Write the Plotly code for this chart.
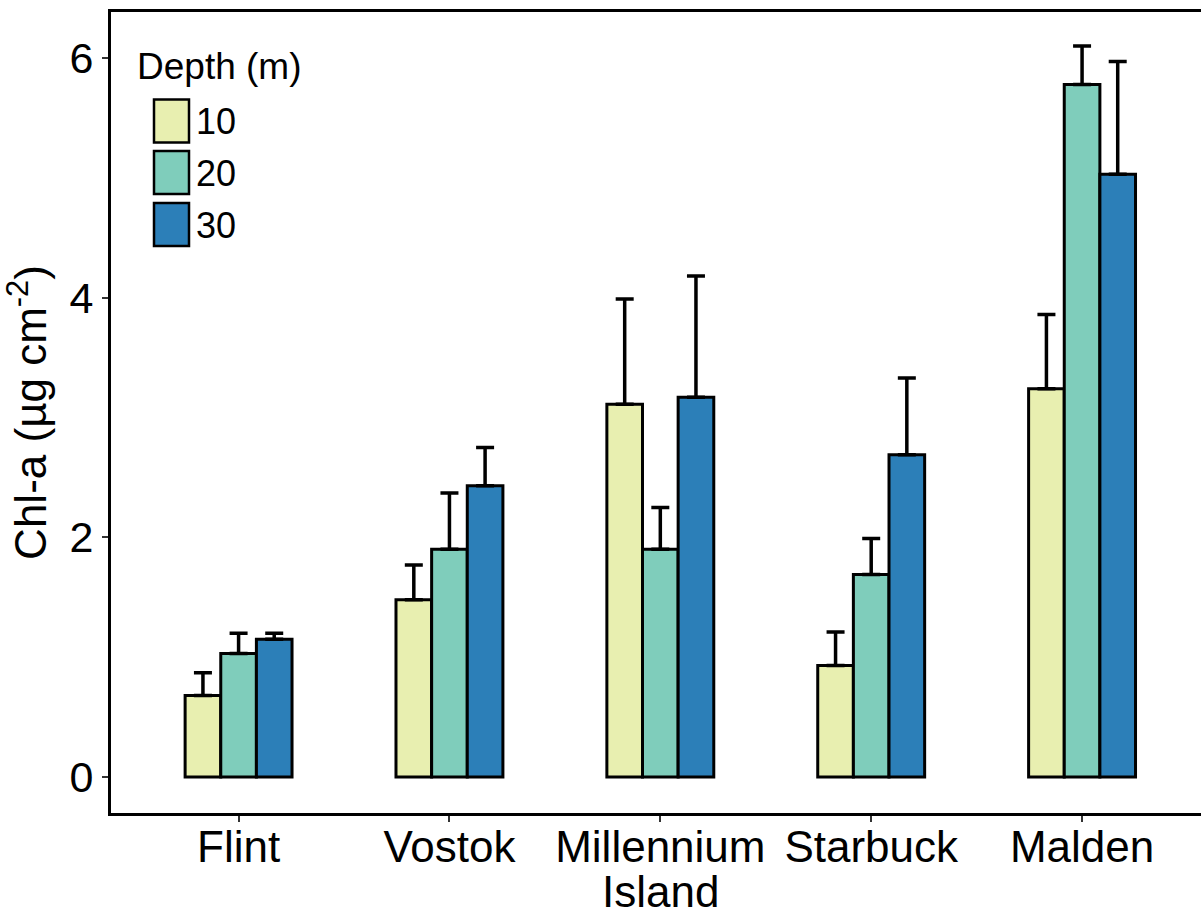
import plotly.graph_objects as go

# Sites along the x axis
sites = ["Flint", "Vostok", "Millennium", "Starbuck", "Malden"]
site_pos = [1, 2, 3, 4, 5]

# Depth classes (m)
depths = ["10", "20", "30"]
colors = ["#e8efb0", "#7fcdbb", "#2c7fb8"]

# Mean chlorophyll-a (µg cm-2) per depth, one value per site
chl_10 = [0.68, 1.48, 3.11, 0.93, 3.24]
chl_20 = [1.03, 1.90, 1.90, 1.69, 5.78]
chl_30 = [1.15, 2.43, 3.17, 2.69, 5.03]

# Standard errors (drawn upward only)
se_10 = [0.19, 0.29, 0.88, 0.28, 0.62]
se_20 = [0.17, 0.47, 0.35, 0.30, 0.32]
se_30 = [0.05, 0.32, 1.01, 0.64, 0.94]

means = [chl_10, chl_20, chl_30]
errors = [se_10, se_20, se_30]

FONT = "Liberation Sans, Arial, Helvetica, sans-serif"

fig = go.Figure()
for d, col, m, e in zip(depths, colors, means, errors):
    fig.add_trace(go.Bar(
        x=site_pos, y=m, name=d,
        marker=dict(color=col, line=dict(color="black", width=3)),
        error_y=dict(type="data", symmetric=False, array=e,
                     arrayminus=[0] * len(e),
                     color="black", thickness=3.5, width=9),
        showlegend=False,
    ))

# Plot-area geometry in pixels (used for the hand-drawn legend)
W, H = 1201, 915
ML, MR, MT, MB = 111, 0, 12, 102
PW, PH = W - ML - MR, H - MT - MB


def px(x):
    return (x - ML) / PW


def py(y):
    return (H - MB - y) / PH


shapes = []
annotations = []

# Legend: title, keys and labels
annotations.append(dict(
    text="Depth (m)", xref="paper", yref="paper",
    x=px(135), y=py(67), xanchor="left", yanchor="middle",
    showarrow=False, font=dict(family=FONT, size=37, color="black"),
))
key_tops = [99.5, 151, 203]
for d, col, top in zip(depths, colors, key_tops):
    shapes.append(dict(
        type="rect", xref="paper", yref="paper",
        x0=px(154), x1=px(189), y0=py(top + 43), y1=py(top),
        fillcolor=col, line=dict(color="black", width=2.5),
    ))
    annotations.append(dict(
        text=d, xref="paper", yref="paper",
        x=px(194), y=py(top + 22), xanchor="left", yanchor="middle",
        showarrow=False, font=dict(family=FONT, size=36, color="black"),
    ))

# Second line of the "Millennium Island" site label
annotations.append(dict(
    text="Island", xref="x", yref="paper", x=3, y=py(891),
    xanchor="center", yanchor="middle", showarrow=False,
    font=dict(family=FONT, size=44, color="black"),
))

fig.update_layout(
    width=W, height=H,
    margin=dict(l=ML, r=MR, t=MT, b=MB, pad=0),
    paper_bgcolor="white", plot_bgcolor="white",
    barmode="group", bargap=0.493, bargroupgap=0,
    font=dict(family=FONT, color="black"),
    shapes=shapes, annotations=annotations,
    xaxis=dict(
        range=[0.395, 5.564], tickvals=site_pos, ticktext=sites,
        showline=True, linecolor="black", linewidth=3, mirror=True,
        ticks="outside", ticklen=6, tickwidth=2, tickcolor="#333333",
        tickfont=dict(family=FONT, size=44, color="black"),
        ticklabelstandoff=-13,
        showgrid=False, zeroline=False,
    ),
    yaxis=dict(
        range=[-0.300, 6.384], tickvals=[0, 2, 4, 6],
        showline=True, linecolor="black", linewidth=3, mirror=False,
        ticks="outside", ticklen=6, tickwidth=2, tickcolor="#333333",
        tickfont=dict(family=FONT, size=43, color="black"),
        showgrid=False, zeroline=False,
        title=dict(text="Chl-a (µg cm<sup>-2</sup>)",
                   font=dict(family=FONT, size=44, color="black"),
                   standoff=11),
    ),
)

fig.write_html("out.html")
